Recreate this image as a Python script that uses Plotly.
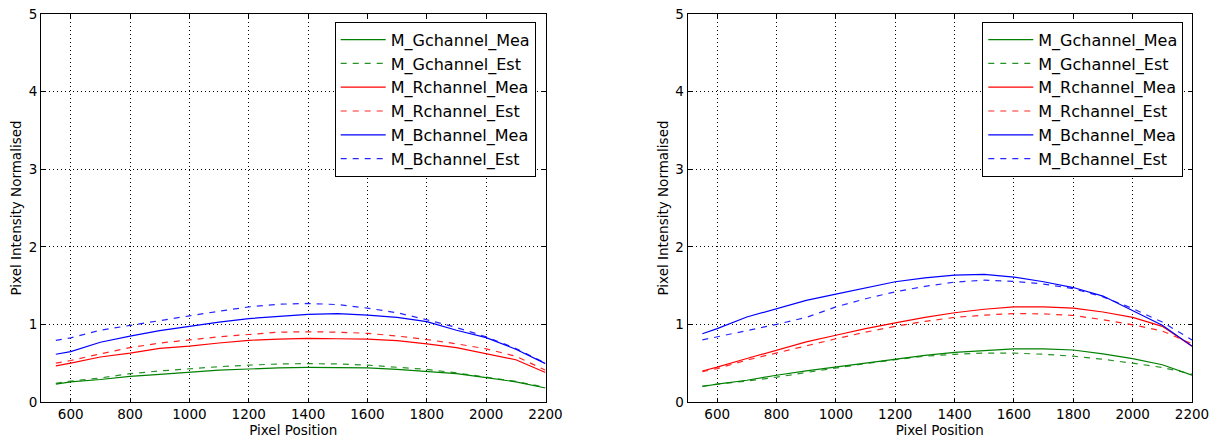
import plotly.graph_objects as go

# ---------------- data ----------------
x_pos = [550, 600, 700, 800, 900, 1000, 1100, 1200, 1300, 1400, 1500,
         1600, 1700, 1800, 1900, 2000, 2100, 2200]

# left panel
L_G_mea = [0.23, 0.26, 0.29, 0.33, 0.355, 0.38, 0.41, 0.425, 0.44, 0.445, 0.445,
           0.44, 0.42, 0.395, 0.365, 0.315, 0.26, 0.18]
L_G_est = [0.24, 0.27, 0.31, 0.365, 0.40, 0.43, 0.455, 0.475, 0.49, 0.495, 0.49,
           0.475, 0.45, 0.42, 0.375, 0.32, 0.265, 0.19]
L_R_mea = [0.465, 0.50, 0.58, 0.63, 0.69, 0.72, 0.76, 0.795, 0.81, 0.82, 0.815,
           0.81, 0.79, 0.75, 0.70, 0.625, 0.545, 0.38]
L_R_est = [0.50, 0.535, 0.62, 0.70, 0.76, 0.80, 0.84, 0.87, 0.90, 0.905, 0.90,
           0.885, 0.85, 0.805, 0.75, 0.685, 0.59, 0.41]
L_B_mea = [0.615, 0.65, 0.77, 0.85, 0.92, 0.975, 1.03, 1.075, 1.105, 1.13, 1.14,
           1.12, 1.09, 1.035, 0.925, 0.83, 0.68, 0.495]
L_B_est = [0.795, 0.826, 0.925, 0.99, 1.05, 1.11, 1.17, 1.225, 1.26, 1.27, 1.255,
           1.21, 1.15, 1.06, 0.96, 0.84, 0.69, 0.50]

# right panel
R_G_mea = [0.20, 0.23, 0.28, 0.345, 0.40, 0.45, 0.50, 0.555, 0.60, 0.64, 0.665,
           0.685, 0.685, 0.67, 0.62, 0.56, 0.48, 0.345]
R_G_est = [0.205, 0.23, 0.27, 0.32, 0.38, 0.44, 0.495, 0.545, 0.59, 0.615, 0.63,
           0.63, 0.615, 0.59, 0.55, 0.50, 0.445, 0.36]
R_R_mea = [0.40, 0.45, 0.56, 0.665, 0.775, 0.86, 0.945, 1.02, 1.09, 1.15, 1.195,
           1.225, 1.225, 1.21, 1.16, 1.09, 0.975, 0.72]
R_R_est = [0.39, 0.43, 0.54, 0.63, 0.73, 0.815, 0.90, 0.975, 1.04, 1.09, 1.12,
           1.14, 1.135, 1.115, 1.06, 0.995, 0.915, 0.75]
R_B_mea = [0.88, 0.945, 1.095, 1.20, 1.31, 1.39, 1.47, 1.55, 1.60, 1.635, 1.645,
           1.61, 1.55, 1.475, 1.365, 1.18, 0.99, 0.72]
R_B_est = [0.80, 0.84, 0.915, 1.00, 1.09, 1.225, 1.33, 1.42, 1.49, 1.545, 1.57,
           1.555, 1.52, 1.46, 1.355, 1.205, 1.03, 0.80]

x_ticks = [600, 800, 1000, 1200, 1400, 1600, 1800, 2000, 2200]
y_ticks = [0, 1, 2, 3, 4, 5]

names = ["M_Gchannel_Mea", "M_Gchannel_Est", "M_Rchannel_Mea",
         "M_Rchannel_Est", "M_Bchannel_Mea", "M_Bchannel_Est"]
colors = ["#008000", "#008000", "#ff0000", "#ff0000", "#0000ff", "#0000ff"]

FONT = "DejaVu Sans"
fig = go.Figure()

panels = [
    ("x", "y", "legend", [L_G_mea, L_G_est, L_R_mea, L_R_est, L_B_mea, L_B_est]),
    ("x2", "y2", "legend2", [R_G_mea, R_G_est, R_R_mea, R_R_est, R_B_mea, R_B_est]),
]
for xa, ya, leg, series in panels:
    for i, (nm, col, vals) in enumerate(zip(names, colors, series)):
        est = nm.endswith("Est")
        fig.add_trace(go.Scatter(
            x=x_pos, y=vals, name=nm, mode="lines",
            line=dict(color=col, width=1.2, dash="6px,6px" if est else "solid"),
            opacity=0.85 if est else 1.0,
            xaxis=xa, yaxis=ya, legend=leg, legendgroup=leg + str(i),
        ))

axis_common = dict(
    showline=True, linecolor="black", linewidth=1, mirror="allticks",
    ticks="inside", ticklen=4, tickcolor="black", automargin=False,
    showgrid=True, gridcolor="black", gridwidth=1, griddash="1px,3px",
    zeroline=False, tickfont=dict(family=FONT, size=13.5, color="black"),
    title_font=dict(family=FONT, size=13.5, color="black"),
)
xd1 = [41 / 1216, 545.5 / 1216]
xd2 = [687.5 / 1216, 1192 / 1216]
yd = [(440 - 402) / 440, (440 - 14) / 440]

leg_common = dict(yanchor="top", xanchor="right", y=(440 - 21.7) / 440,
                  bordercolor="black", borderwidth=1, bgcolor="white",
                  font=dict(family=FONT, size=16, color="black"),
                  itemwidth=45, tracegroupgap=2, traceorder="normal")

fig.update_layout(
    width=1216, height=440, margin=dict(l=0, r=0, t=0, b=0, autoexpand=False),
    paper_bgcolor="white", plot_bgcolor="white",
    font=dict(family=FONT, color="black"),
    xaxis=dict(domain=xd1, range=[500, 2200], tickvals=x_ticks, anchor="y",
               title=dict(text="Pixel Position", standoff=4), **axis_common),
    yaxis=dict(domain=yd, range=[0, 5], tickvals=y_ticks, anchor="x",
               title=dict(text="Pixel Intensity Normalised", standoff=3), **axis_common),
    xaxis2=dict(domain=xd2, range=[500, 2200], tickvals=x_ticks, anchor="y2",
                title=dict(text="Pixel Position", standoff=4), **axis_common),
    yaxis2=dict(domain=yd, range=[0, 5], tickvals=y_ticks, anchor="x2",
                title=dict(text="Pixel Intensity Normalised", standoff=3), **axis_common),
    legend=dict(x=535.7 / 1216, **leg_common),
    legend2=dict(x=1183.3 / 1216, **leg_common),
    showlegend=True,
)

fig.write_html("out.html")
